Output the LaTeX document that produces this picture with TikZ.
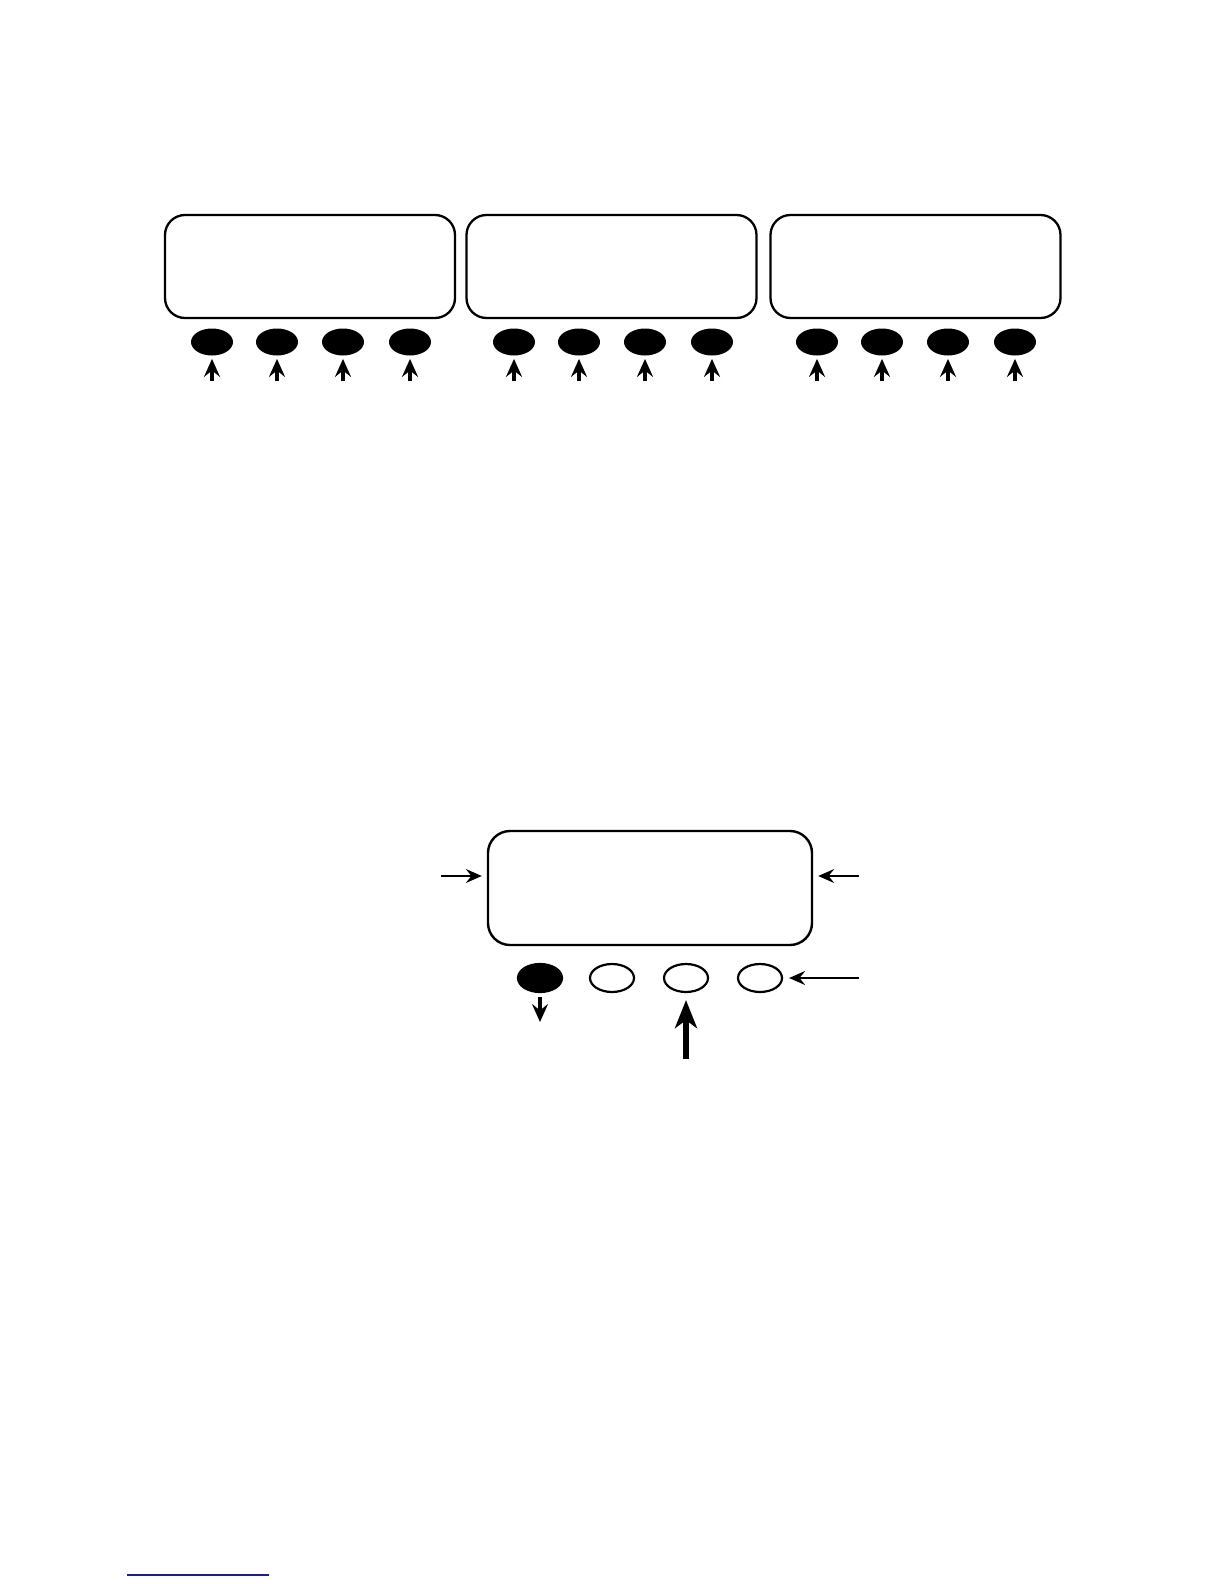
\documentclass[tikz,border=0pt]{standalone}
\usetikzlibrary{arrows.meta,shapes.geometric}
\definecolor{linkblue}{RGB}{30,30,140}
\begin{document}
\begin{tikzpicture}[x=0.5pt,y=-0.5pt,
  topbox/.style={draw,line width=1.15pt,rounded corners=10pt,minimum width=145pt,minimum height=51.5pt,inner sep=0pt},
  botbox/.style={draw,line width=1.2pt,rounded corners=11pt,minimum width=162pt,minimum height=57pt,inner sep=0pt},
  pin/.style={ellipse,fill=black,minimum width=21pt,minimum height=13.5pt,inner sep=0pt},
  bpinfull/.style={ellipse,fill=black,draw,line width=1.1pt,minimum width=22pt,minimum height=14pt,inner sep=0pt},
  bpinopen/.style={ellipse,draw,line width=1.1pt,minimum width=22pt,minimum height=14pt,inner sep=0pt},
  uparrow/.style={line width=2pt,-{Stealth[length=9pt,width=8pt,inset=3.2pt]},shorten >=1.5pt},
  thinarrow/.style={line width=0.9pt,-{Stealth[length=8pt,width=7pt,inset=2.8pt]}},
  downarrow/.style={line width=1.6pt,-{Stealth[length=9pt,width=8pt,inset=3.2pt]},shorten <=2pt},
  bigarrow/.style={line width=3pt,-{Stealth[length=14pt,width=11pt,inset=4pt]},shorten >=3.5pt}
]
\useasboundingbox (0,0) rectangle (1224,1584);

% top boxes
\node[topbox] (b1) at (310,266.5) {};
\node[topbox] (b2) at (611.5,266.5) {};
\node[topbox] (b3) at (915.5,266.5) {};

% top pins and arrows
\foreach \i/\x in {1/212,2/277,3/343,4/410,5/514,6/579,7/645,8/712,9/817,10/882,11/948,12/1015}{
  \node[pin] (p\i) at (\x,342) {};
  \coordinate (q\i) at (\x,381);
  \draw[uparrow] (q\i) -- (p\i);
}

% bottom box
\node[botbox] (m) at (650,888) {};
\coordinate (lin) at (441,876);
\coordinate (rin) at (859,876);
\draw[thinarrow,shorten >=2.5pt] (lin) -- (lin -| m.west);
\draw[thinarrow,shorten >=2.5pt] (rin) -- (rin -| m.east);

% bottom pins
\node[bpinfull] (f1) at (540,978) {};
\node[bpinopen] (f2) at (612,978) {};
\node[bpinopen] (f3) at (686,978) {};
\node[bpinopen] (f4) at (760,978) {};

\coordinate (e4in) at (859,978);
\draw[thinarrow,shorten >=3pt] (e4in) -- (f4.east);

\coordinate (dout) at (540,1022);
\draw[downarrow] (f1.south) -- (dout);

\coordinate (bigin) at (686,1059);
\draw[bigarrow] (bigin) -- (f3.south);

% blue line
\coordinate (bl1) at (127,1575);
\coordinate (bl2) at (269,1575);
\draw[linkblue,line width=0.75pt] (bl1) -- (bl2);
\end{tikzpicture}
\end{document}
